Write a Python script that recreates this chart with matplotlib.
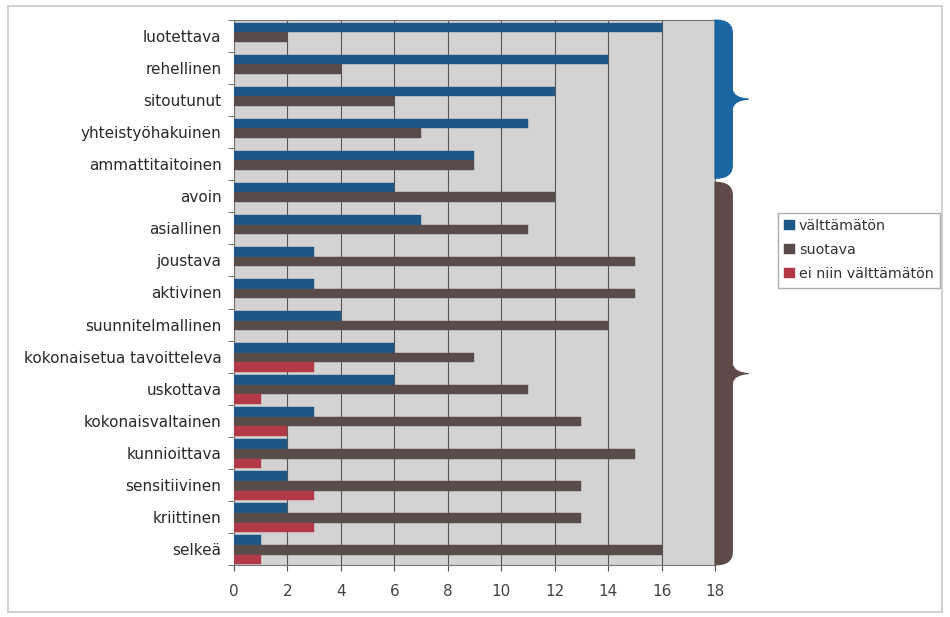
import matplotlib
matplotlib.use("Agg")
import matplotlib.pyplot as plt
import numpy as np
from matplotlib.path import Path
from matplotlib.patches import PathPatch, Rectangle

plt.rcParams['font.family'] = ['DejaVu Sans']

categories = ['luotettava', 'rehellinen', 'sitoutunut', 'yhteistyöhakuinen',
              'ammattitaitoinen', 'avoin', 'asiallinen', 'joustava', 'aktivinen',
              'suunnitelmallinen', 'kokonaisetua tavoitteleva', 'uskottava',
              'kokonaisvaltainen', 'kunnioittava', 'sensitiivinen', 'kriittinen',
              'selkeä']
valttamaton = [16, 14, 12, 11, 9, 6, 7, 3, 3, 4, 6, 6, 3, 2, 2, 2, 1]
suotava = [2, 4, 6, 7, 9, 12, 11, 15, 15, 14, 9, 11, 13, 15, 13, 13, 16]
ei_niin = [0, 0, 0, 0, 0, 0, 0, 0, 0, 0, 3, 1, 2, 1, 3, 3, 1]
series_names = ['välttämätön', 'suotava', 'ei niin välttämätön']
x_ticks = [0, 2, 4, 6, 8, 10, 12, 14, 16, 18]
# brace groups: (first index, last index, colour)
groups = [(0, 4, '#1b65a0'), (5, 16, '#5e4b47')]

colors = ['#1d5687', '#5a4b4b', '#b23a48']

fig = plt.figure(figsize=(9.5, 6.17), dpi=100)
fig.patches.append(Rectangle((0.008, 0.008), 0.984, 0.982, transform=fig.transFigure,
                             fill=False, edgecolor='#c8c8c8', lw=1.2))
ax = fig.add_axes([0.2463, 0.0843, 0.5063, 0.8833])
ax.set_facecolor('#d3d3d3')

y = np.arange(len(categories))
h = 0.3
for i, (vals, name) in enumerate(zip([valttamaton, suotava, ei_niin], series_names)):
    ax.barh(y + (i - 1) * h + 0.03, vals, height=h, color=colors[i], label=name,
            edgecolor=colors[i], linewidth=0.3, zorder=3)

ax.set_xlim(0, 18)
ax.set_ylim(len(categories) - 0.5, -0.5)
ax.set_xticks(x_ticks)
ax.set_yticks(y)
ax.set_yticklabels(categories, fontsize=11, color='#2a2a2a')
ax.set_yticks(np.arange(len(categories) + 1) - 0.5, minor=True)
ax.tick_params(axis='y', which='major', length=0, pad=9)
ax.tick_params(axis='y', which='minor', length=4, color='#555555')
ax.tick_params(axis='x', length=4, color='#555555', labelsize=11, labelcolor='#444444', pad=10)
ax.grid(axis='x', color='#555555', lw=0.8, zorder=1)
for s in ax.spines.values():
    s.set_color('#777777')
    s.set_linewidth(0.8)

# braces on the right side
for g0, g1, col in groups:
    y0 = g0 - 0.5 + (0.0 if g0 == 0 else 0.06)
    y1 = g1 + 0.5 - (0.0 if g1 == len(categories) - 1 else 0.06)
    ym = (y0 + y1) / 2
    xb, xw, xt = 18.0, 18.65, 19.25
    r, s = 0.4, 0.3
    verts = [(xb, y0), (xw, y0), (xw, y0 + r), (xw, ym - s),
             (xw + 0.05, ym - 0.03), (xt, ym),
             (xw + 0.05, ym + 0.03), (xw, ym + s),
             (xw, y1 - r), (xw, y1), (xb, y1), (xb, y0)]
    codes = [Path.MOVETO, Path.CURVE3, Path.CURVE3, Path.LINETO, Path.CURVE3, Path.CURVE3,
             Path.CURVE3, Path.CURVE3, Path.LINETO, Path.CURVE3, Path.CURVE3, Path.CLOSEPOLY]
    ax.add_patch(PathPatch(Path(verts, codes), facecolor=col, edgecolor=col, lw=0.8,
                           clip_on=False, zorder=4))

fig.legend(loc='upper left', bbox_to_anchor=(0.819, 0.655), fontsize=10.3,
           frameon=True, fancybox=False, edgecolor='#999999', handlelength=0.7,
           handleheight=0.7, handletextpad=0.3, labelspacing=0.7, borderpad=0.45,
           borderaxespad=0, labelcolor='#333333')

fig.savefig('out.png', dpi=100, facecolor='white')
